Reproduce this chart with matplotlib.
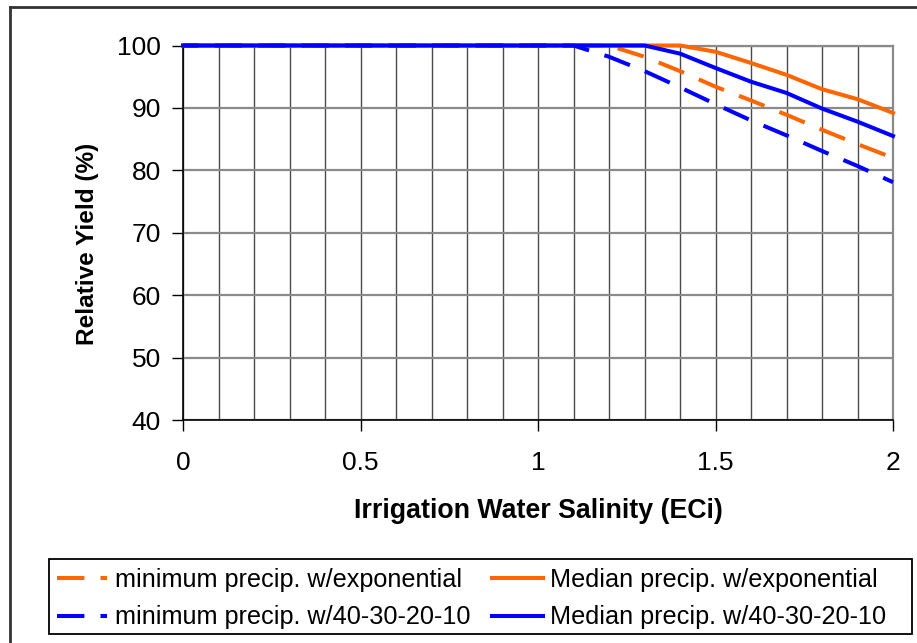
import matplotlib
matplotlib.use("Agg")
import matplotlib.pyplot as plt
from matplotlib.lines import Line2D
from matplotlib.patches import Rectangle
from matplotlib.ticker import MultipleLocator

# ---- data ----
x_vals = [0.0, 0.1, 0.2, 0.3, 0.4, 0.5, 0.6, 0.7, 0.8, 0.9, 1.0,
          1.1, 1.2, 1.3, 1.4, 1.5, 1.6, 1.7, 1.8, 1.9, 2.0]
min_exp = [100, 100, 100, 100, 100, 100, 100, 100, 100, 100, 100,
           100, 100, 98.2, 95.9, 93.4, 91.2, 88.9, 86.5, 84.2, 82.0]
med_exp = [100, 100, 100, 100, 100, 100, 100, 100, 100, 100, 100,
           100, 100, 100, 100, 99.0, 97.2, 95.3, 93.0, 91.4, 89.2]
min_4321 = [100, 100, 100, 100, 100, 100, 100, 100, 100, 100, 100,
            100, 98.2, 95.9, 93.3, 90.6, 88.0, 85.6, 83.1, 80.7, 78.1]
med_4321 = [100, 100, 100, 100, 100, 100, 100, 100, 100, 100, 100,
            100, 100, 100, 98.7, 96.4, 94.2, 92.4, 89.9, 87.8, 85.5]
labels = ["minimum precip. w/exponential", "Median precip. w/exponential",
          "minimum precip. w/40-30-20-10", "Median precip. w/40-30-20-10"]
x_ticks = [0, 0.5, 1, 1.5, 2]
x_tick_labels = ["0", "0.5", "1", "1.5", "2"]
y_ticks = [40, 50, 60, 70, 80, 90, 100]

ORANGE = "#FF6600"
BLUE = "#0000FF"

plt.rcParams['font.family'] = ['Liberation Sans', 'DejaVu Sans']

W, H = 917, 643
fig = plt.figure(figsize=(W / 100, H / 100), dpi=100)
ax = fig.add_axes([183 / W, 1 - 420 / H, (893 - 183) / W, (420 - 45.5) / H])

lw = 2.9
dash_style = (0, (6.8, 4))
ax.plot(x_vals, min_exp, color=ORANGE, lw=lw, linestyle=dash_style,
        clip_on=False, zorder=3, dash_capstyle='butt')
ax.plot(x_vals, med_exp, color=ORANGE, lw=lw, clip_on=False, zorder=3)
ax.plot(x_vals, min_4321, color=BLUE, lw=lw, linestyle=(3.0, (6.8, 4)),
        clip_on=False, zorder=3, dash_capstyle='butt')
ax.plot(x_vals, med_4321, color=BLUE, lw=lw, clip_on=False, zorder=3)

ax.set_xlim(0, 2)
ax.set_ylim(40, 100)
ax.set_xticks(x_ticks)
ax.set_xticklabels(x_tick_labels)
ax.set_yticks(y_ticks)
ax.xaxis.set_minor_locator(MultipleLocator(0.1))
ax.tick_params(axis='both', which='major', direction='out', length=8, width=1,
               labelsize=19, color='black')
ax.tick_params(axis='x', which='major', pad=14)
ax.tick_params(axis='y', which='major', pad=8)
ax.tick_params(axis='x', which='minor', length=0)

ax.grid(True, axis='x', which='both', color='#4a4a4a', lw=1.0, zorder=1)
ax.grid(True, axis='y', which='major', color='#8a8a8a', lw=1.6, zorder=1)

for side in ['top', 'right']:
    ax.spines[side].set_color('#8a8a8a')
    ax.spines[side].set_linewidth(1.6)
for side in ['left', 'bottom']:
    ax.spines[side].set_color('black')
    ax.spines[side].set_linewidth(1.2)

ax.set_xlabel("Irrigation Water Salinity (ECi)", fontsize=19.3, fontweight='bold', labelpad=17)
ax.set_ylabel("Relative Yield (%)", fontsize=17.6, fontweight='bold')
ax.yaxis.set_label_coords((99 - 183) / 710, (420 - 244) / 374.5)

# legend proxies (same styles as the series)
h_min_exp = Line2D([], [], color=ORANGE, lw=lw, linestyle=dash_style, dash_capstyle='butt')
h_med_exp = Line2D([], [], color=ORANGE, lw=lw)
h_min_4321 = Line2D([], [], color=BLUE, lw=lw, linestyle=dash_style, dash_capstyle='butt')
h_med_4321 = Line2D([], [], color=BLUE, lw=lw)

leg = fig.legend([h_min_exp, h_min_4321, h_med_exp, h_med_4321],
                 [labels[0], labels[2], labels[1], labels[3]],
                 ncol=2, loc='lower left',
                 bbox_to_anchor=(49 / W, 1 - 637 / H, (894 - 49) / W, (634 - 559) / H),
                 mode='expand', handlelength=2.0, handletextpad=0.3,
                 columnspacing=1.0, labelspacing=0.52, borderpad=0.3,
                 frameon=False, borderaxespad=0,
                 prop={'family': ['Liberation Sans Narrow', 'Liberation Sans'], 'size': 18.2})

# legend frame
fig.add_artist(Rectangle((49 / W, 1 - 634 / H), (912 - 49) / W, (634 - 559) / H,
                         transform=fig.transFigure, facecolor='none', edgecolor='black',
                         lw=1.3))

# outer chart border (cropped on right and bottom)
fig.add_artist(Line2D([10 / W, 10 / W], [-0.1, 1 - 6.5 / H], transform=fig.transFigure,
                      color='#333333', lw=2))
fig.add_artist(Line2D([10 / W, 1.1], [1 - 6.5 / H, 1 - 6.5 / H], transform=fig.transFigure,
                      color='#333333', lw=2))

fig.savefig("out.png", dpi=100)
